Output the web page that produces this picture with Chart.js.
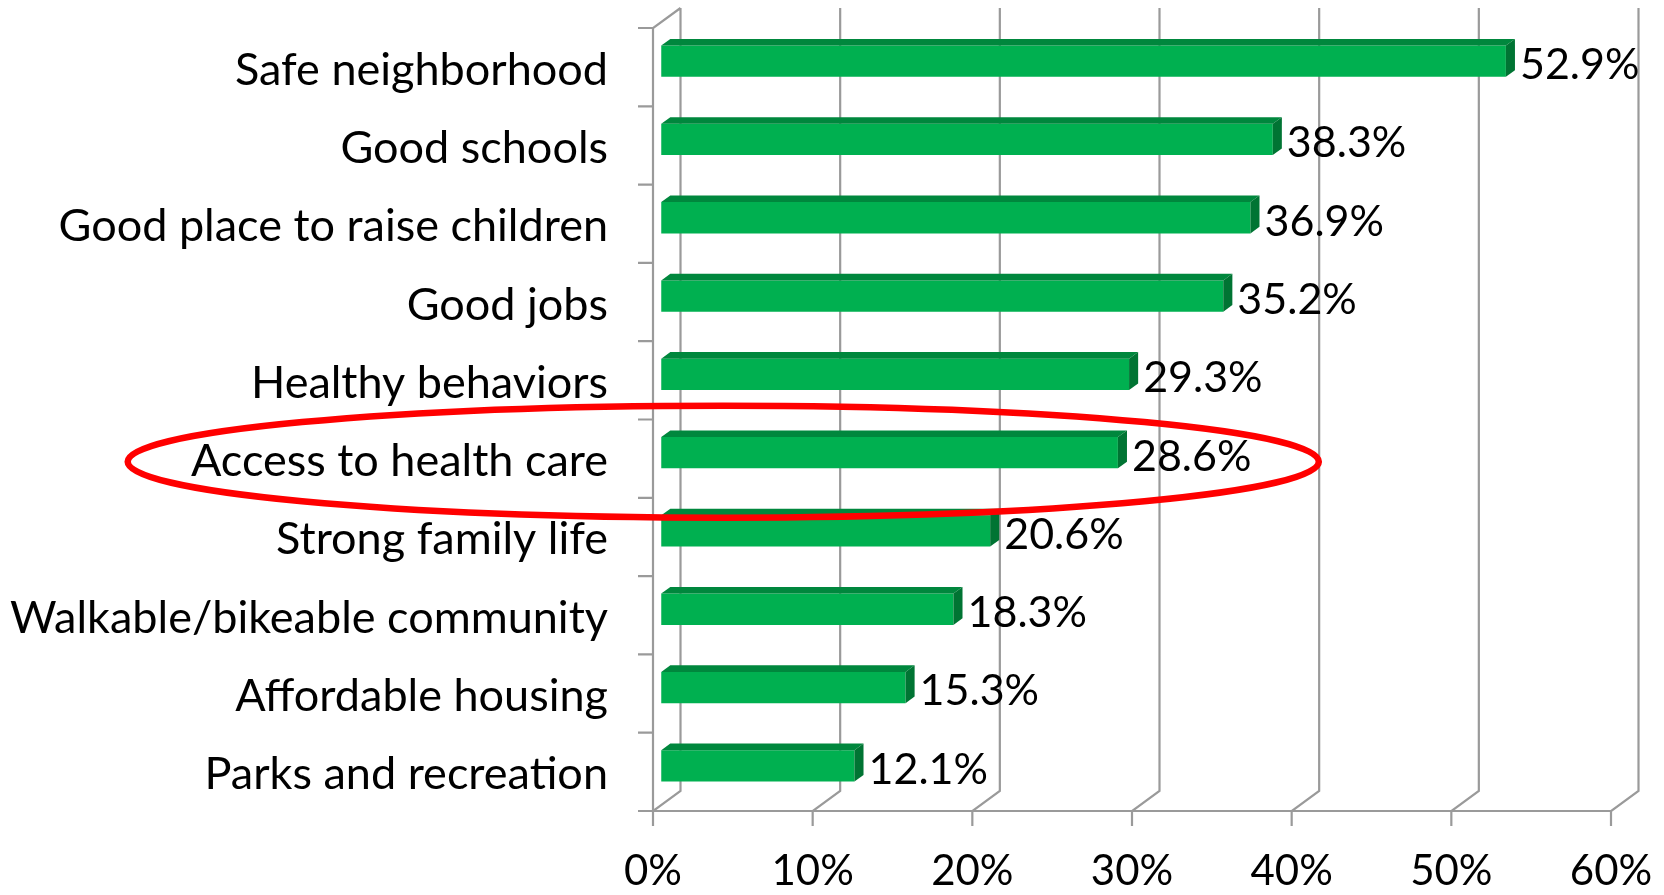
<!DOCTYPE html>
<html>
<head>
<meta charset="utf-8" />
<style>
  html, body { margin: 0; padding: 0; background: #fff; }
  canvas { display: block; }
</style>
</head>
<body>
<canvas id="c" width="1664" height="895"></canvas>
<script src="https://cdn.jsdelivr.net/npm/chart.js@4.4.3/dist/chart.umd.min.js"></script>
<script>
const categories = [
  'Safe neighborhood',
  'Good schools',
  'Good place to raise children',
  'Good jobs',
  'Healthy behaviors',
  'Access to health care',
  'Strong family life',
  'Walkable/bikeable community',
  'Affordable housing',
  'Parks and recreation'
];
const shares = [52.9, 38.3, 36.9, 35.2, 29.3, 28.6, 20.6, 18.3, 15.3, 12.1];
const xTicks = [0, 10, 20, 30, 40, 50, 60];
const highlighted = 'Access to health care';

// look
const NUM_FONT = '43px Lato, "Open Sans", sans-serif';
const GREEN = '#00b050';
const GREEN_TOP = '#00873d';
const GREEN_SIDE = '#007433';
const GRID = '#9a9a9a';
const WALL = { dx: 27.5, dy: -20 };   // depth of the 3d box
const BAR_FRONT = 0.3;                // bar front plane, share of depth
const BAR_DEPTH = 0.33;               // bar thickness, share of depth
const TICK = 15;

const depth = {
  id: 'depth',
  beforeDatasetsDraw(chart) {
    const { ctx, chartArea: a, scales: { x } } = chart;
    const band = (a.bottom - a.top) / categories.length;
    ctx.save();
    ctx.strokeStyle = GRID;
    ctx.lineWidth = 2.2;
    ctx.beginPath();
    // left wall edge
    ctx.moveTo(a.left + WALL.dx, a.top + WALL.dy);
    ctx.lineTo(a.left, a.top);
    ctx.lineTo(a.left, a.bottom);
    for (let i = 0; i <= categories.length; i++) {
      const py = a.top + band * i;
      ctx.moveTo(a.left - TICK, py);
      ctx.lineTo(a.left, py);
    }
    // floor front edge
    ctx.moveTo(a.left, a.bottom);
    ctx.lineTo(a.right, a.bottom);
    // back wall gridlines
    xTicks.forEach(v => {
      const px = x.getPixelForValue(v);
      ctx.moveTo(px, a.bottom + TICK);
      ctx.lineTo(px, a.bottom);
      ctx.lineTo(px + WALL.dx, a.bottom + WALL.dy);
      ctx.lineTo(px + WALL.dx, a.top + WALL.dy);
    });
    ctx.stroke();
    ctx.restore();
    ctx.save();
    ctx.translate(WALL.dx * BAR_FRONT, WALL.dy * BAR_FRONT);
  },
  afterDatasetsDraw(chart) {
    const { ctx } = chart;
    ctx.restore();
    const ox = WALL.dx * BAR_FRONT, oy = WALL.dy * BAR_FRONT;
    const dx = WALL.dx * BAR_DEPTH, dy = WALL.dy * BAR_DEPTH;
    chart.getDatasetMeta(0).data.forEach((bar, i) => {
      const p = bar.getProps(['x', 'y', 'base', 'height'], true);
      const t = p.y - p.height / 2 + oy, b = p.y + p.height / 2 + oy;
      const l = p.base + ox, r = p.x + ox;
      ctx.fillStyle = GREEN_TOP;
      ctx.beginPath();
      ctx.moveTo(l, t); ctx.lineTo(l + dx, t + dy); ctx.lineTo(r + dx, t + dy); ctx.lineTo(r, t);
      ctx.closePath(); ctx.fill();
      ctx.fillStyle = GREEN_SIDE;
      ctx.beginPath();
      ctx.moveTo(r, t); ctx.lineTo(r + dx, t + dy); ctx.lineTo(r + dx, b + dy); ctx.lineTo(r, b);
      ctx.closePath(); ctx.fill();
      ctx.fillStyle = '#000';
      ctx.font = NUM_FONT;
      ctx.textAlign = 'left';
      ctx.textBaseline = 'middle';
      ctx.fillText(shares[i].toFixed(1) + '%', r + dx + 5, (t + b) / 2 + 4);
    });
  },
  afterDraw(chart) {
    // red ring round the highlighted category
    const { ctx, scales: { x, y } } = chart;
    const cy = y.getPixelForValue(categories.indexOf(highlighted)) + 3;
    const x0 = x.getPixelForValue(-32.9), x1 = x.getPixelForValue(41.7);
    ctx.save();
    ctx.strokeStyle = '#ff0000';
    ctx.lineWidth = 6.5;
    ctx.beginPath();
    ctx.ellipse((x0 + x1) / 2, cy, (x1 - x0) / 2, 56, 0, 0, Math.PI * 2);
    ctx.stroke();
    ctx.restore();
  }
};

new Chart(document.getElementById('c').getContext('2d'), {
  type: 'bar',
  data: {
    labels: categories,
    datasets: [{
      data: shares,
      backgroundColor: GREEN,
      borderWidth: 0,
      barPercentage: 0.4,
      categoryPercentage: 1,
      clip: false
    }]
  },
  options: {
    indexAxis: 'y',
    responsive: false,
    animation: false,
    devicePixelRatio: 1,
    layout: { padding: { top: 28, right: 53, left: 0, bottom: 0 } },
    plugins: { legend: { display: false }, tooltip: { enabled: false } },
    scales: {
      x: {
        min: 0, max: 60,
        afterFit(s) { s.height = 84; s.paddingLeft = 0; s.paddingRight = 0; },
        afterBuildTicks(s) { s.ticks = xTicks.map(v => ({ value: v })); },
        grid: { display: false, drawTicks: false },
        border: { display: false },
        ticks: {
          color: '#000', padding: 35,
          font: { family: 'Lato', size: 42 },
          callback: v => v + '%'
        }
      },
      y: {
        afterFit(s) { s.width = 653; s.paddingTop = 0; s.paddingBottom = 0; },
        grid: { display: false, drawTicks: false },
        border: { display: false },
        ticks: {
          color: '#000', padding: 45, labelOffset: 3,
          font: { family: 'Lato', size: 45 }
        }
      }
    }
  },
  plugins: [depth]
});
</script>
</body>
</html>
